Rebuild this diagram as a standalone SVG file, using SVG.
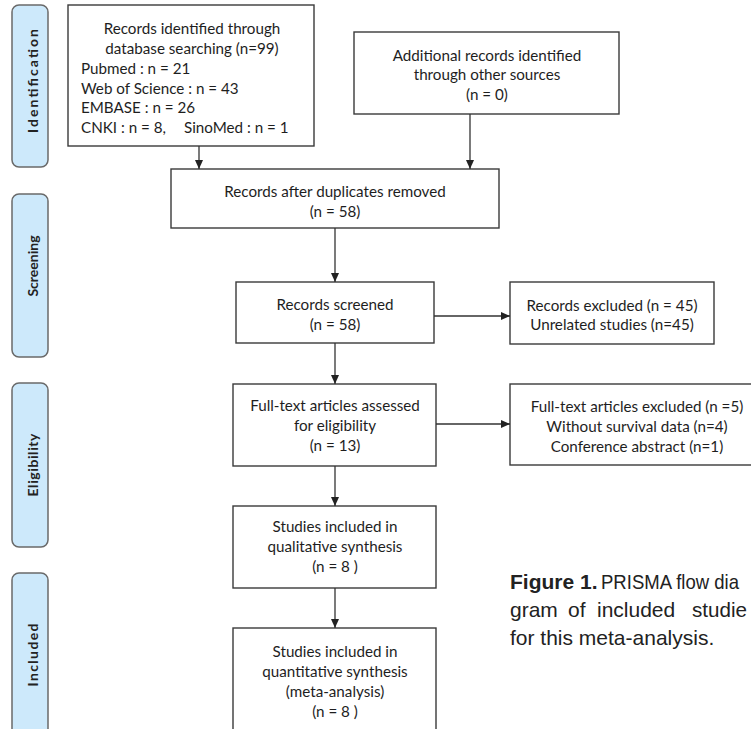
<svg xmlns="http://www.w3.org/2000/svg" width="751" height="729" viewBox="0 0 751 729">
<style>
.bx{fill:#fff;stroke:#3a3a3a;stroke-width:1.4}
.t{font-family:Lato,"Liberation Sans",sans-serif;font-size:15.2px;fill:#1e1e1e}
.c{text-anchor:middle}
.lab{fill:#cde9fb;stroke:#6a6a6a;stroke-width:1.5}
.lt{font-family:Lato,"Liberation Sans",sans-serif;font-size:14px;font-weight:700;fill:#222;text-anchor:middle}
.cap{font-family:"Liberation Sans",Arial,sans-serif;font-size:21px;fill:#222}
.ln{stroke:#333;stroke-width:1.3;fill:none;marker-end:url(#ah)}
</style>
<defs>
<marker id="ah" markerUnits="userSpaceOnUse" markerWidth="9" markerHeight="9" viewBox="0 0 9 9" refX="9" refY="4.5" orient="auto">
<path d="M0,0.5 L9,4.5 L0,8.5 Z" fill="#222"/>
</marker>
</defs>
<rect width="751" height="729" fill="#fff"/>
<g id="stage-identification"><rect class="lab" x="12" y="5" width="36" height="162" rx="7"/><text class="lt" font-size="15" transform="translate(38,81) rotate(-90)" textLength="104" lengthAdjust="spacing">Identification</text></g>
<g id="stage-screening"><rect class="lab" x="12" y="194" width="36" height="163" rx="7"/><text class="lt" font-size="13" transform="translate(38,266) rotate(-90)">Screening</text></g>
<g id="stage-eligibility"><rect class="lab" x="12" y="383" width="36" height="164" rx="7"/><text class="lt" transform="translate(38,465) rotate(-90)" textLength="63" lengthAdjust="spacing">Eligibility</text></g>
<g id="stage-included"><rect class="lab" x="12" y="573" width="36" height="175" rx="7"/><text class="lt" transform="translate(38,655) rotate(-90)" textLength="63" lengthAdjust="spacing">Included</text></g>
<g id="db-search"><rect class="bx" x="68" y="5" width="246" height="141"/>
<text class="t c" x="192" y="34">Records identified through</text>
<text class="t c" x="192" y="54">database searching (n=99)</text>
<text class="t" x="81" y="74">Pubmed : n = 21</text>
<text class="t" x="81" y="94">Web of Science : n = 43</text>
<text class="t" x="81" y="113">EMBASE : n = 26</text>
<text class="t" x="81" y="133">CNKI : n = 8,</text>
<text class="t" x="184" y="133">SinoMed : n = 1</text></g>
<g id="other-sources"><rect class="bx" x="354" y="32" width="265" height="82"/>
<text class="t c" x="487" y="61">Additional records identified</text>
<text class="t c" x="487" y="80">through other sources</text>
<text class="t c" x="487" y="100">(n = 0)</text></g>
<g id="dedup"><rect class="bx" x="171" y="169" width="328" height="59"/>
<text class="t c" x="335" y="197">Records after duplicates removed</text>
<text class="t c" x="335" y="217">(n = 58)</text></g>
<g id="screened"><rect class="bx" x="236" y="282" width="198" height="61"/>
<text class="t c" x="335" y="310">Records screened</text>
<text class="t c" x="335" y="330">(n = 58)</text></g>
<g id="excluded"><rect class="bx" x="510" y="282" width="204" height="62"/>
<text class="t c" x="612" y="311">Records excluded (n = 45)</text>
<text class="t c" x="612" y="330">Unrelated studies (n=45)</text></g>
<g id="fulltext"><rect class="bx" x="233" y="384" width="203" height="82"/>
<text class="t c" x="335" y="411">Full-text articles assessed</text>
<text class="t c" x="335" y="431">for eligibility</text>
<text class="t c" x="335" y="451">(n = 13)</text></g>
<g id="ft-excluded"><rect class="bx" x="510" y="384" width="254" height="81"/>
<text class="t c" x="637" y="412">Full-text articles excluded (n =5)</text>
<text class="t c" x="637" y="432">Without survival data (n=4)</text>
<text class="t c" x="637" y="452">Conference abstract (n=1)</text></g>
<g id="qualitative"><rect class="bx" x="233" y="506" width="203" height="82"/>
<text class="t c" x="335" y="532">Studies included in</text>
<text class="t c" x="335" y="552">qualitative synthesis</text>
<text class="t c" x="335" y="572">(n = 8 )</text></g>
<g id="quantitative"><rect class="bx" x="233" y="628" width="203" height="120"/>
<text class="t c" x="335" y="657">Studies included in</text>
<text class="t c" x="335" y="677">quantitative synthesis</text>
<text class="t c" x="335" y="697">(meta-analysis)</text>
<text class="t c" x="335" y="717">(n = 8 )</text></g>
<g id="connectors">
<line class="ln" x1="199" y1="146" x2="199" y2="169"/>
<line class="ln" x1="470" y1="114" x2="470" y2="169"/>
<line class="ln" x1="335" y1="228" x2="335" y2="282"/>
<line class="ln" x1="434" y1="316" x2="510" y2="316"/>
<line class="ln" x1="335" y1="343" x2="335" y2="384"/>
<line class="ln" x1="436" y1="424" x2="510" y2="424"/>
<line class="ln" x1="335" y1="466" x2="335" y2="506"/>
<line class="ln" x1="335" y1="588" x2="335" y2="628"/>
</g>
<g id="caption">
<text class="cap" x="510" y="589" font-weight="700" font-size="20">Figure 1.</text>
<text class="cap" x="601" y="589" font-size="19" textLength="138" lengthAdjust="spacingAndGlyphs">PRISMA flow dia</text>
<text class="cap" x="510" y="617">gram</text>
<text class="cap" x="568" y="617">of</text>
<text class="cap" x="597" y="617">included</text>
<text class="cap" x="692" y="617" textLength="55" lengthAdjust="spacingAndGlyphs">studie</text>
<text class="cap" x="510" y="645">for this meta-analysis.</text>
</g>
</svg>
